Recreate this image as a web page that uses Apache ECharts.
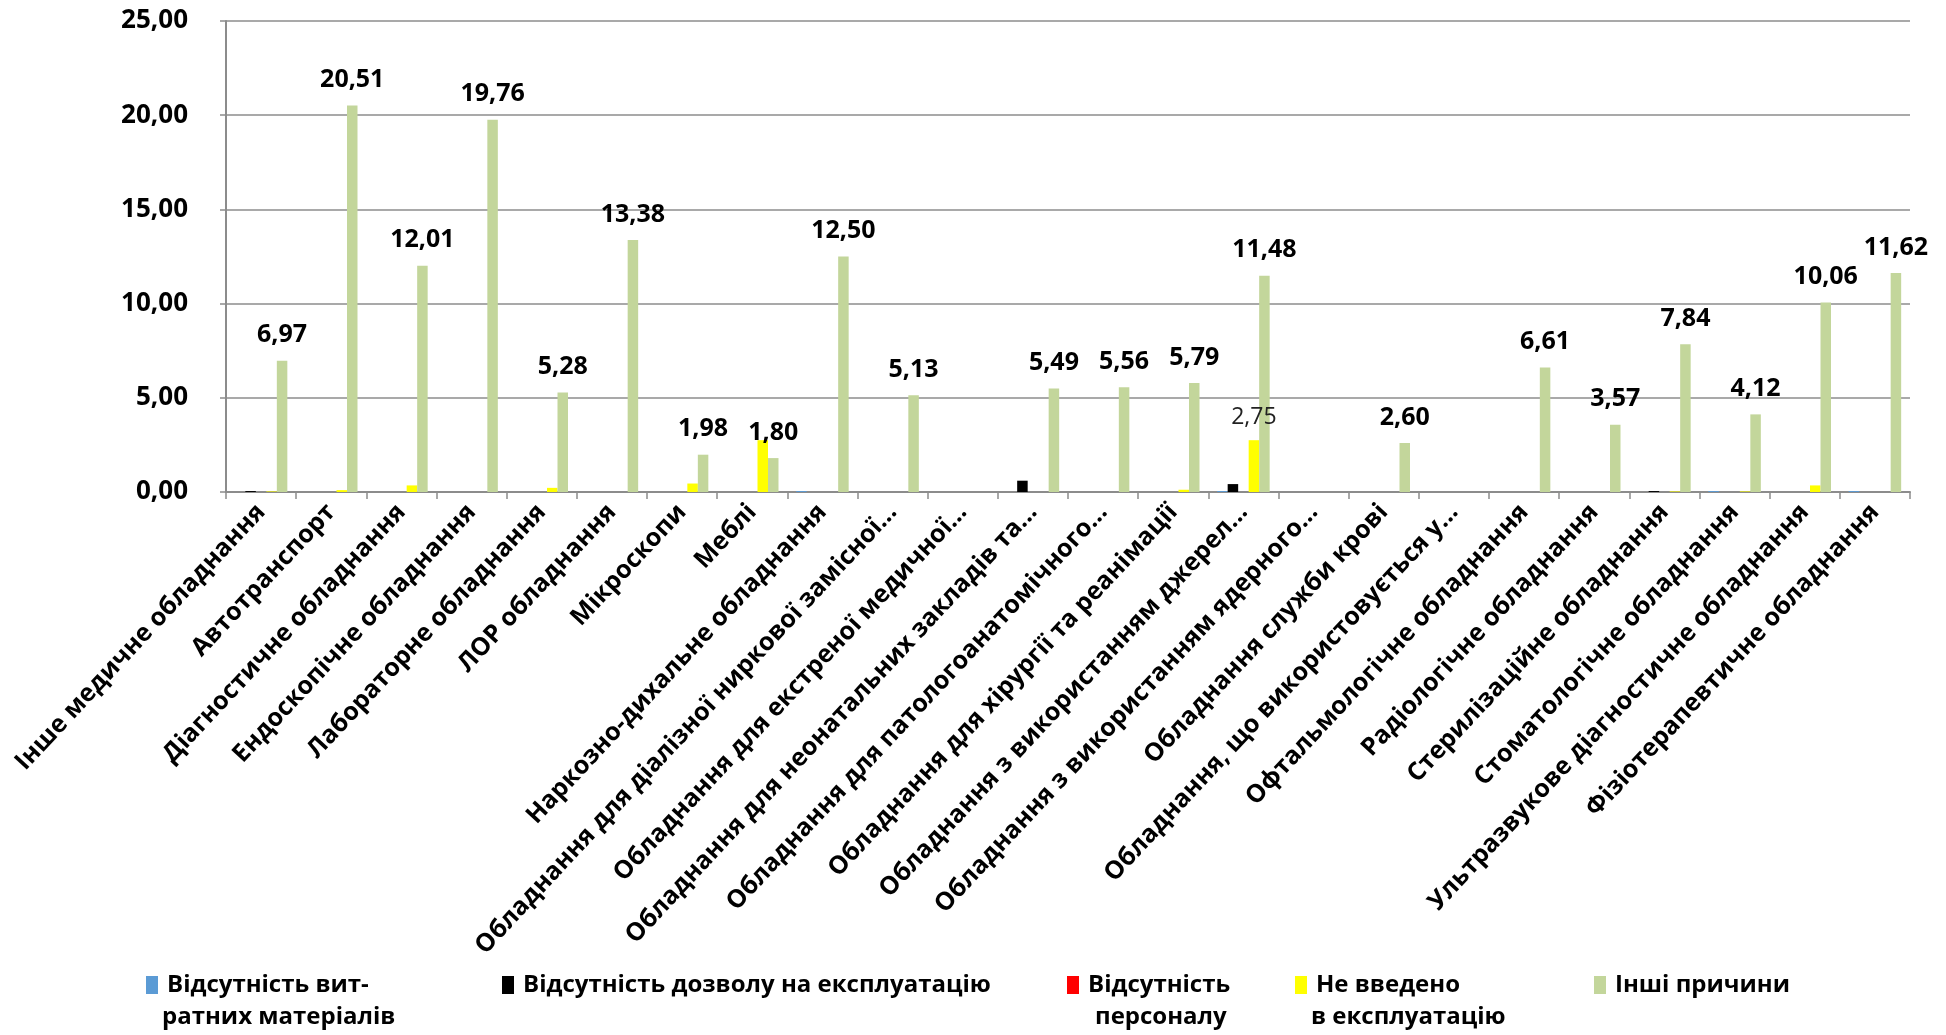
<!DOCTYPE html>
<html>
<head>
<meta charset="utf-8">
<script src="https://cdn.jsdelivr.net/npm/echarts@6/dist/echarts.min.js"></script>
<style>
html,body{margin:0;padding:0;background:#fff;}
#chart{width:1946px;height:1035px;}
</style>
</head>
<body>
<div id="chart"></div>
<script>
const categories = [
  'Інше медичне обладнання',
  'Автотранспорт',
  'Діагностичне обладнання',
  'Ендоскопічне обладнання',
  'Лабораторне обладнання',
  'ЛОР обладнання',
  'Мікроскопи',
  'Меблі',
  'Наркозно-дихальне обладнання',
  'Обладнання для діалізної ниркової замісної...',
  'Обладнання для екстреної медичної...',
  'Обладнання для неонатальних закладів та...',
  'Обладнання для патологоанатомічного...',
  'Обладнання для хірургії та реанімації',
  'Обладнання з використанням джерел...',
  'Обладнання з використанням ядерного...',
  'Обладнання служби крові',
  'Обладнання, що використовується у...',
  'Офтальмологічне обладнання',
  'Радіологічне обладнання',
  'Стерилізаційне обладнання',
  'Стоматологічне обладнання',
  'Ультразвукове діагностичне обладнання',
  'Фізіотерапевтичне обладнання'
];

const seriesNames = [
  'Відсутність вит-\nратних матеріалів',
  'Відсутність дозволу на експлуатацію',
  'Відсутність\nперсоналу',
  'Не введено\nв експлуатацію',
  'Інші причини'
];

const noConsumables = [0,0,0,0,0,0,0,0,0.05,0,0,0,0,0,0.05,0,0,0,0,0,0,0.05,0,0.05];
const noPermit      = [0.05,0,0,0,0,0,0,0,0,0,0,0.6,0,0,0.42,0,0,0,0,0,0.05,0,0,0];
const noStaff       = [0,0,0,0,0,0,0,0,0,0,0,0,0,0,0,0,0,0,0,0,0,0,0,0];
const notCommissioned = [0.03,0.1,0.35,0,0.22,0,0.45,2.75,0,0,0,0,0,0.12,2.75,0,0,0,0,0,0.03,0.03,0.35,0];
const otherReasons  = [6.97,20.51,12.01,19.76,5.28,13.38,1.98,1.80,12.50,5.13,0,5.49,5.56,5.79,11.48,0,2.60,0,6.61,3.57,7.84,4.12,10.06,11.62];
const notCommissionedLabelIdx = [14];

const yTicks = { min: 0, max: 25, interval: 5 };

const FONT = '"Open Sans", "Noto Sans", sans-serif';
const fmt = v => Number(v).toFixed(2).replace('.', ',');
const colors = ['#5B9BD5', '#000000', '#FF0000', '#FFFF00', '#C3D69B'];
const dataSets = [noConsumables, noPermit, noStaff, notCommissioned, otherReasons];

const series = dataSets.map((d, i) => {
  const s = {
    name: seriesNames[i],
    type: 'bar',
    data: d,
    barWidth: 10.5,
    barGap: '0%',
    itemStyle: { color: colors[i] },
    emphasis: { disabled: true },
    label: { show: false }
  };
  if (i === 4) {
    s.label = {
      show: true, position: 'top', distance: 13,
      formatter: p => (p.value > 0 ? fmt(p.value) : ''),
      fontFamily: FONT, fontSize: 25, fontWeight: 'bold', color: '#000'
    };
  }
  if (i === 3) {
    s.label = {
      show: true, position: 'top', distance: 11,
      formatter: p => (notCommissionedLabelIdx.includes(p.dataIndex) ? fmt(p.value) : ''),
      fontFamily: FONT, fontSize: 23, fontWeight: 'normal', color: '#222'
    };
  }
  return s;
});

const LEG_FONT = 24;
const legendLeft = [141, 497, 1062, 1290, 1589];
const legendTop = 963;
const legendIconW = 12;
const legendTextPad = 4;
const secondLineIndent = [0, 0, 12, 0, 0];

const legends = seriesNames.map((n, i) => ({
  data: [n],
  left: legendLeft[i],
  top: legendTop,
  orient: 'horizontal',
  icon: 'rect',
  itemWidth: legendIconW,
  itemHeight: 18,
  selectedMode: false,
  formatter: name => name.split('\n')[0],
  textStyle: {
    fontFamily: FONT, fontSize: LEG_FONT, fontWeight: 'bold', color: '#000',
    lineHeight: 34, padding: [0, 0, 0, legendTextPad]
  }
}));

const secondLines = [];
seriesNames.forEach((n, i) => {
  const parts = n.split('\n');
  if (parts.length > 1) {
    secondLines.push({
      type: 'text',
      left: legendLeft[i] + legendIconW + 5 + legendTextPad + secondLineIndent[i],
      top: 1005,
      style: { text: parts[1], font: 'bold ' + LEG_FONT + 'px ' + FONT, fill: '#000' }
    });
  }
});

const chart = echarts.init(document.getElementById('chart'));
chart.setOption({
  animation: false,
  backgroundColor: '#fff',
  color: colors,
  grid: { left: 226, right: 36, top: 21, bottom: 543 },
  legend: legends,
  graphic: secondLines,
  xAxis: {
    type: 'category',
    data: categories,
    axisLine: { show: true, lineStyle: { color: '#8c8c8c', width: 2 } },
    axisTick: { show: true, length: 7, lineStyle: { color: '#8c8c8c', width: 1.5 } },
    axisLabel: {
      interval: 0, rotate: 47, margin: 16,
      fontFamily: FONT, fontSize: 25, fontWeight: 'bold', color: '#000'
    }
  },
  yAxis: {
    type: 'value',
    min: yTicks.min, max: yTicks.max, interval: yTicks.interval,
    axisLine: { show: true, lineStyle: { color: '#8c8c8c', width: 2 } },
    axisTick: { show: true, length: 6, lineStyle: { color: '#8c8c8c', width: 1.5 } },
    splitLine: { show: true, lineStyle: { color: '#8c8c8c', width: 1.5 } },
    axisLabel: {
      margin: 38, formatter: v => fmt(v),
      fontFamily: FONT, fontSize: 26, fontWeight: 'bold', color: '#000'
    }
  },
  series: series
});
</script>
</body>
</html>
